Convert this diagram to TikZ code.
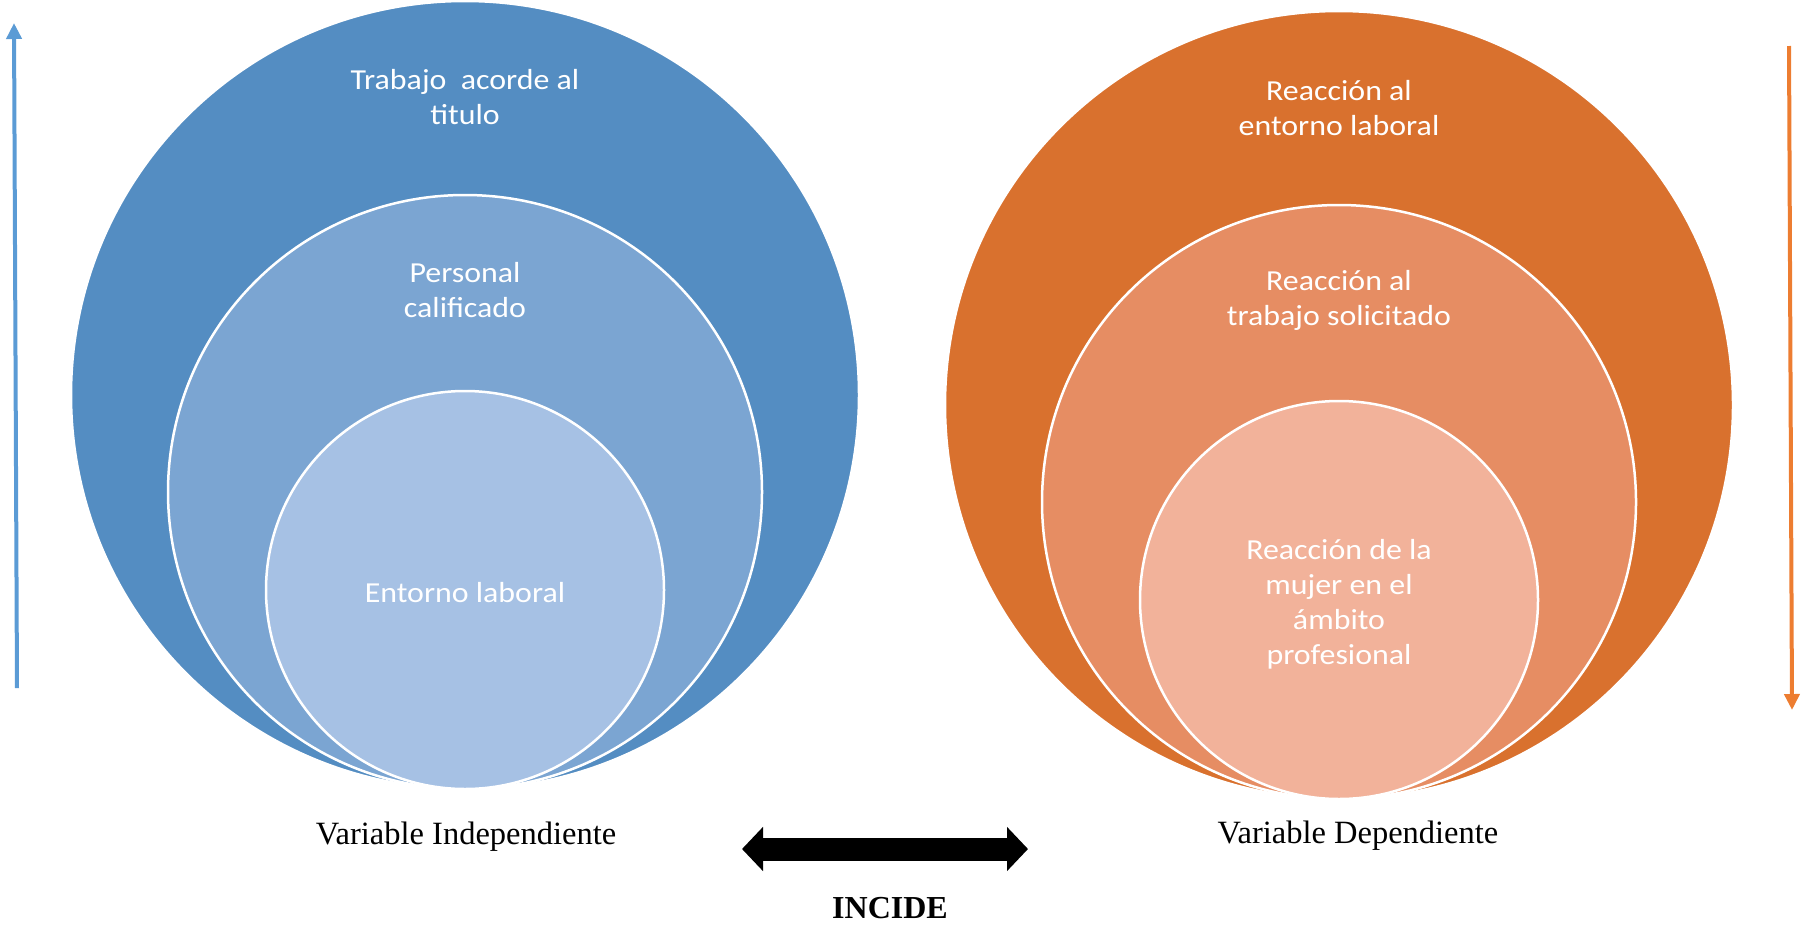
\documentclass[tikz,border=0pt]{standalone}
\usepackage{fontspec}
\setmainfont{Liberation Serif}
\newfontfamily\circfont{Carlito}
\usetikzlibrary{arrows.meta}
\definecolor{bOut}{HTML}{548DC2}
\definecolor{bMid}{HTML}{7BA5D2}
\definecolor{bIn}{HTML}{A6C1E4}
\definecolor{oOut}{HTML}{D9712E}
\definecolor{oMid}{HTML}{E68D63}
\definecolor{oIn}{HTML}{F2B29A}
\definecolor{arrBlue}{HTML}{5B9BD5}
\definecolor{arrOrange}{HTML}{ED7D31}
\tikzset{
  ring/.style={circle, draw=white, line width=2.5pt, inner sep=0pt},
  ctext/.style={text=white, align=center, xscale=1.1, font=\circfont\fontsize{29}{35}\selectfont},
  vlabel/.style={font=\fontsize{32.5}{36}\selectfont},
}
\begin{document}
\begin{tikzpicture}[x=1pt,y=-1pt]
\useasboundingbox (0,0) rectangle (1803,924);
% left circles
\node[ring, fill=bOut, minimum size=788pt] (LO) at (465,395) {};
\node[ring, fill=bMid, minimum size=594pt] (LM) at (465,492) {};
\node[ring, fill=bIn, minimum size=398pt] (LI) at (465,590) {};
\node[ctext] (LOt) at (465,97.5) {Trabajo\ \ acorde al\\titulo};
\node[ctext] (LMt) at (465,290) {Personal\\calificado};
\node[ctext] (LIt) at (465,593) {Entorno laboral};
% right circles
\node[ring, fill=oOut, minimum size=788pt] (RO) at (1339,405) {};
\node[ring, fill=oMid, minimum size=594pt] (RM) at (1339,502) {};
\node[ring, fill=oIn, minimum size=398pt] (RI) at (1339,600) {};
\node[ctext] (ROt) at (1339,108.5) {Reacción al\\entorno laboral};
\node[ctext] (RMt) at (1339,300) {Reacción al\\trabajo solicitado};
\node[ctext] (RIt) at (1339,604.5) {Reacción de la\\mujer en el\\ámbito\\profesional};
% side arrows
\coordinate (LA1) at (17,688);
\coordinate (LA2) at (14,23);
\draw[arrBlue, line width=4pt, -{Triangle[width=15pt,length=16pt]}] (LA1) -- (LA2);
\coordinate (RA1) at (1789,46);
\coordinate (RA2) at (1792,710);
\draw[arrOrange, line width=4pt, -{Triangle[width=15pt,length=16pt]}] (RA1) -- (RA2);
% labels
\node[vlabel] (VI) at (466,837) {Variable Independiente};
\node[vlabel] (VD) at (1358,836) {Variable Dependiente};
% double arrow
\coordinate (DA1) at (742,849);
\coordinate (DA2) at (1028,849);
\draw[black, line width=23pt, {Triangle[width=43pt,length=21pt]}-{Triangle[width=43pt,length=21pt]}] (DA1) -- (DA2);
\node[inner sep=0pt, font=\bfseries\fontsize{32}{36}\selectfont] (INC) at (890,908) {INCIDE};
\end{tikzpicture}
\end{document}
